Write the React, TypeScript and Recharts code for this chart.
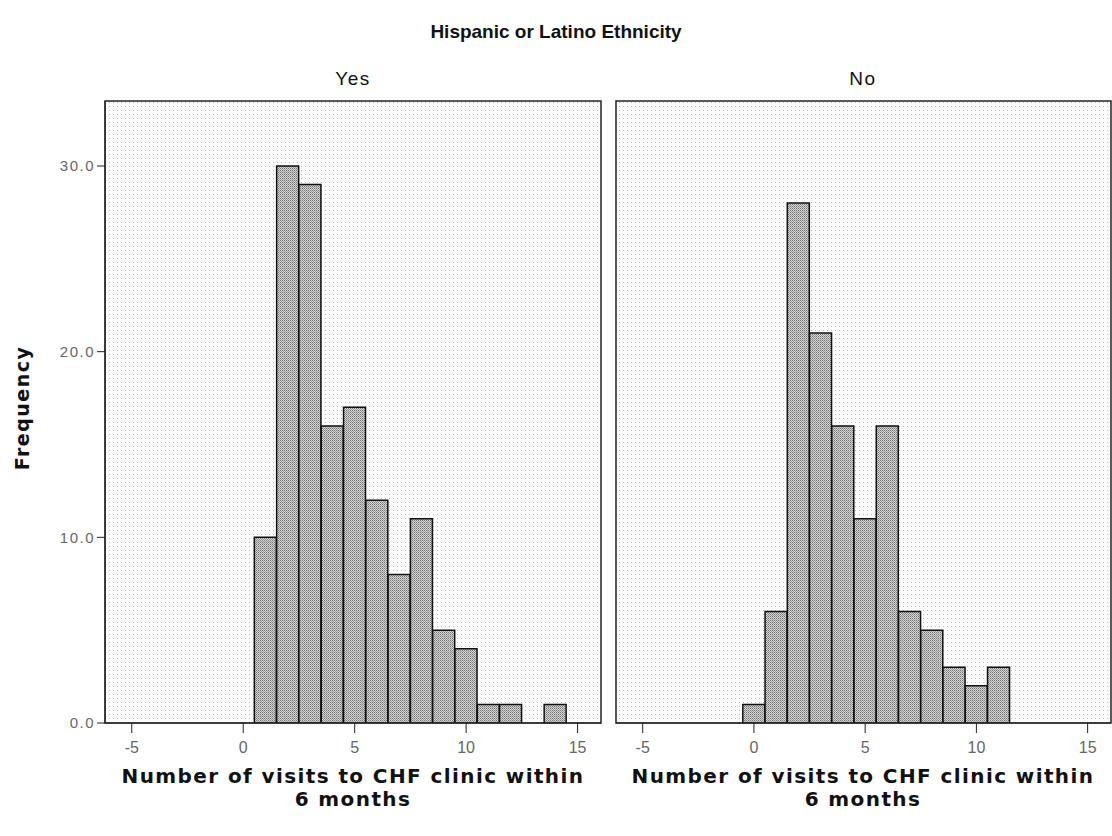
import React from "react";
import { BarChart, Bar, XAxis, YAxis, ReferenceArea } from "recharts";

// number of visits (bin centres), one bin per integer
const visits = [0, 1, 2, 3, 4, 5, 6, 7, 8, 9, 10, 11, 12, 13, 14];
const yesFreq = [0, 10, 30, 29, 16, 17, 12, 8, 11, 5, 4, 1, 1, 0, 1];
const noFreq = [1, 6, 28, 21, 16, 11, 16, 6, 5, 3, 2, 3, 0, 0, 0];

const xTicks = [-5, 0, 5, 10, 15];
const yTicks = [0, 10, 20, 30];
const xDomain: [number, number] = [-6.2, 16.05];
const yDomain: [number, number] = [0, 33.5];

const toRows = (vals: number[]) => visits.map((v, i) => ({ visits: v, freq: vals[i] }));

const sans = "'Liberation Sans', Arial, sans-serif";
const wide = "'DejaVu Sans', Verdana, sans-serif";

function Panel({
  id,
  values,
  showY,
  width,
  margin,
}: {
  id: string;
  values: number[];
  showY: boolean;
  width: number;
  margin: { top: number; right: number; bottom: number; left: number };
}) {
  return (
    <BarChart
      width={width}
      height={760}
      data={toRows(values)}
      margin={margin}
      barCategoryGap={0}
      barGap={0}
    >
      <defs>
        <pattern id={`${id}-bg`} width="4" height="4" patternUnits="userSpaceOnUse">
          <rect width="4" height="4" fill="#fcfcfc" />
          <rect x="1" y="2" width="1" height="1" fill="#b8b8b8" />
        </pattern>
        <pattern id={`${id}-bar`} width="2" height="2" patternUnits="userSpaceOnUse">
          <rect width="2" height="2" fill="#d4d4d4" />
          <rect x="0" y="0" width="1" height="1" fill="#777" />
          <rect x="1" y="1" width="1" height="1" fill="#999" />
        </pattern>
      </defs>
      <XAxis
        type="number"
        dataKey="visits"
        domain={xDomain}
        ticks={xTicks}
        allowDataOverflow
        height={37}
        tickSize={10}
        tickMargin={9}
        stroke="#222"
        tick={{ fill: "#666", fontSize: 16, fontFamily: sans }}
      />
      <YAxis
        hide={!showY}
        width={showY ? 105 : 0}
        domain={yDomain}
        ticks={yTicks}
        allowDataOverflow
        tickSize={8}
        tickMargin={2}
        stroke="#222"
        tickFormatter={(v: number) => v.toFixed(1)}
        tick={{ fill: "#666", fontSize: 15, fontFamily: sans, letterSpacing: 1.5 }}
      />
      <ReferenceArea
        x1={xDomain[0]}
        x2={xDomain[1]}
        y1={yDomain[0]}
        y2={yDomain[1]}
        fill={`url(#${id}-bg)`}
        fillOpacity={1}
        stroke="#222"
        strokeWidth={1.5}
      />
      <Bar
        dataKey="freq"
        fill={`url(#${id}-bar)`}
        stroke="#111"
        strokeWidth={1.5}
        isAnimationActive={false}
      />
    </BarChart>
  );
}

const axisTitle: React.CSSProperties = {
  position: "absolute",
  width: 500,
  textAlign: "center",
  fontFamily: wide,
  fontWeight: "bold",
  fontSize: 20,
  letterSpacing: 1.4,
  lineHeight: "23px",
  color: "#111",
};

export default function App() {
  return (
    <div style={{ position: "relative", width: 1112, height: 836, background: "#fff", overflow: "hidden" }}>
      <style>{`body{margin:0}`}</style>
      <div
        style={{
          position: "absolute",
          top: 21,
          left: 0,
          width: 1112,
          textAlign: "center",
          fontFamily: sans,
          fontWeight: "bold",
          fontSize: 19,
          color: "#111",
        }}
      >
        Hispanic or Latino Ethnicity
      </div>
      <div style={{ position: "absolute", top: 68, left: 103, width: 500, textAlign: "center", fontFamily: sans, fontSize: 19, letterSpacing: 1.5, color: "#111" }}>
        Yes
      </div>
      <div style={{ position: "absolute", top: 68, left: 613, width: 500, textAlign: "center", fontFamily: sans, fontSize: 19, letterSpacing: 1.5, color: "#111" }}>
        No
      </div>
      <div
        style={{
          position: "absolute",
          left: 22,
          top: 408,
          transform: "translate(-50%, -50%) rotate(-90deg)",
          fontFamily: wide,
          fontWeight: "bold",
          fontSize: 19,
          letterSpacing: 1.5,
          color: "#111",
          whiteSpace: "nowrap",
        }}
      >
        Frequency
      </div>

      <div style={{ position: "absolute", left: 0, top: 0 }}>
        <Panel id="yes" values={yesFreq} showY width={610} margin={{ top: 101, right: 9, bottom: 0, left: 0 }} />
      </div>
      <div style={{ position: "absolute", left: 610, top: 0 }}>
        <Panel id="no" values={noFreq} showY={false} width={502} margin={{ top: 101, right: 1, bottom: 0, left: 6 }} />
      </div>

      <div style={{ ...axisTitle, left: 103, top: 765 }}>
        Number of visits to CHF clinic within
        <br />6 months
      </div>
      <div style={{ ...axisTitle, left: 613, top: 765 }}>
        Number of visits to CHF clinic within
        <br />6 months
      </div>
    </div>
  );
}
